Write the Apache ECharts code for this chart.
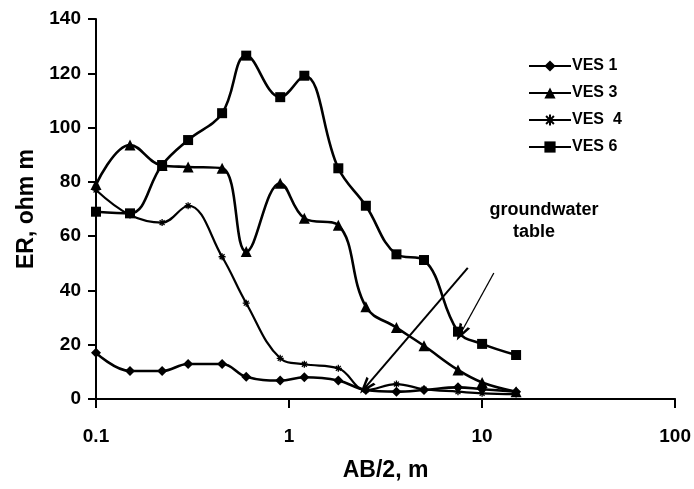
<!DOCTYPE html>
<html>
<head>
<meta charset="utf-8">
<script src="https://cdn.jsdelivr.net/npm/echarts@6/dist/echarts.min.js"></script>
<style>
html,body{margin:0;padding:0;background:#fff;}
#chart{width:694px;height:489px;}
</style>
</head>
<body>
<div id="chart"></div>
<script>
// AB/2 spacing (m)
const abHalf = [0.1, 0.15, 0.22, 0.3, 0.45, 0.6, 0.9, 1.2, 1.8, 2.5, 3.6, 5, 7.5, 10, 15];
// Apparent resistivity (ohm m)
const ves1 = [17, 10.3, 10.3, 12.9, 12.9, 8.2, 6.8, 8, 6.8, 3.3, 2.7, 3.3, 4.3, 3.6, 2.7];
const ves3 = [79, 93.6, 86, 85.5, 85, 54.3, 79.5, 66.6, 64, 34, 26.3, 19.6, 10.7, 6.1, 2.7];
const ves4 = [77, 67.8, 65, 71.2, 52.4, 35.3, 15, 12.8, 11.3, 3.3, 5.5, 3.6, 2.7, 2.1, 1.8];
const ves6 = [69, 68.4, 86.2, 95.4, 105.3, 126.5, 111.2, 119.1, 85, 71.2, 53.3, 51.2, 24.8, 20.3, 16.2];
const seriesNames = ['VES 1', 'VES 3', 'VES  4', 'VES 6'];
const xTicks = [0.1, 1, 10, 100];
const yTicks = [0, 20, 40, 60, 80, 100, 120, 140];
// groundwater-table arrows: [from, to] in data units
const arrow1 = [[8.43, 48.3], [2.49, 4.4]];
const arrow2 = [[11.5, 46.4], [7.76, 24.3]];

const FONT = '"Liberation Sans", Arial, sans-serif';
const chevron = 'path://M6,0 L12,16 L9.2,16 L6,6.5 L2.8,16 L0,16 Z';
const pairs = v => abHalf.map((x, i) => [x, v[i]]);

function mkSeries(name, data, symbol, size, extra) {
  return Object.assign({
    name: name,
    type: 'line',
    data: pairs(data),
    smooth: 0.4,
    symbol: symbol,
    symbolSize: size,
    showSymbol: true,
    lineStyle: {color: '#000', width: 2.6},
    itemStyle: {color: '#000'},
    emphasis: {disabled: true}
  }, extra || {});
}

const chart = echarts.init(document.getElementById('chart'), null, {renderer: 'canvas'});
chart.setOption({
  animation: false,
  backgroundColor: '#fff',
  grid: {left: 96, right: 15, top: 19, bottom: 90},
  legend: {
    orient: 'vertical',
    left: 523,
    top: 53,
    itemWidth: 42,
    itemHeight: 14,
    itemGap: 11,
    data: seriesNames,
    textStyle: {color: '#000', fontFamily: FONT, fontWeight: 'bold', fontSize: 16, padding: [0, 0, 0, -4]}
  },
  xAxis: {
    type: 'log',
    logBase: 10,
    min: xTicks[0],
    max: xTicks[xTicks.length - 1],
    name: 'AB/2, m',
    nameLocation: 'middle',
    nameGap: 60,
    nameTextStyle: {color: '#000', fontFamily: FONT, fontWeight: 'bold', fontSize: 23},
    axisLine: {lineStyle: {color: '#000', width: 2}},
    axisTick: {show: true, length: 9, lineStyle: {color: '#000', width: 2}},
    axisLabel: {color: '#000', fontFamily: FONT, fontWeight: 'bold', fontSize: 19, margin: 28,
      formatter: v => String(v)},
    splitLine: {show: false},
    minorTick: {show: false}
  },
  yAxis: {
    type: 'value',
    min: yTicks[0],
    max: yTicks[yTicks.length - 1],
    interval: 20,
    name: 'ER, ohm m',
    nameLocation: 'middle',
    nameGap: 56,
    nameTextStyle: {color: '#000', fontFamily: FONT, fontWeight: 'bold', fontSize: 23},
    axisLine: {show: true, lineStyle: {color: '#000', width: 2}},
    axisTick: {show: true, length: 8, lineStyle: {color: '#000', width: 2}},
    axisLabel: {color: '#000', fontFamily: FONT, fontWeight: 'bold', fontSize: 19, margin: 15},
    splitLine: {show: false}
  },
  series: [
    mkSeries(seriesNames[0], ves1, 'diamond', 10, {
      markLine: {
        silent: true,
        symbol: ['none', chevron],
        symbolSize: [12, 17],
        label: {show: false},
        itemStyle: {color: '#000'},
        lineStyle: {color: '#000', type: 'solid', width: 2},
        data: [
          [{coord: arrow1[0]}, {coord: arrow1[1]}],
          [{coord: arrow2[0], lineStyle: {width: 1.3}}, {coord: arrow2[1], lineStyle: {width: 1.3}}]
        ]
      }
    }),
    mkSeries(seriesNames[1], ves3, 'triangle', 11),
    mkSeries(seriesNames[2], ves4, 'path://M5,0 L5,10 M0,5 L10,5 M1.5,1.5 L8.5,8.5 M1.5,8.5 L8.5,1.5', 7,
      {itemStyle: {color: '#000', borderColor: '#000', borderWidth: 1.3}, lineStyle: {color: '#000', width: 2.2}}),
    mkSeries(seriesNames[3], ves6, 'rect', 10)
  ],
  graphic: [
    {type: 'text', x: 544, y: 210, silent: true,
     style: {text: 'groundwater', align: 'center', verticalAlign: 'middle', fill: '#000',
             font: 'bold 18px ' + FONT}},
    {type: 'text', x: 534, y: 232, silent: true,
     style: {text: 'table', align: 'center', verticalAlign: 'middle', fill: '#000',
             font: 'bold 18px ' + FONT}}
  ]
});
</script>
</body>
</html>
